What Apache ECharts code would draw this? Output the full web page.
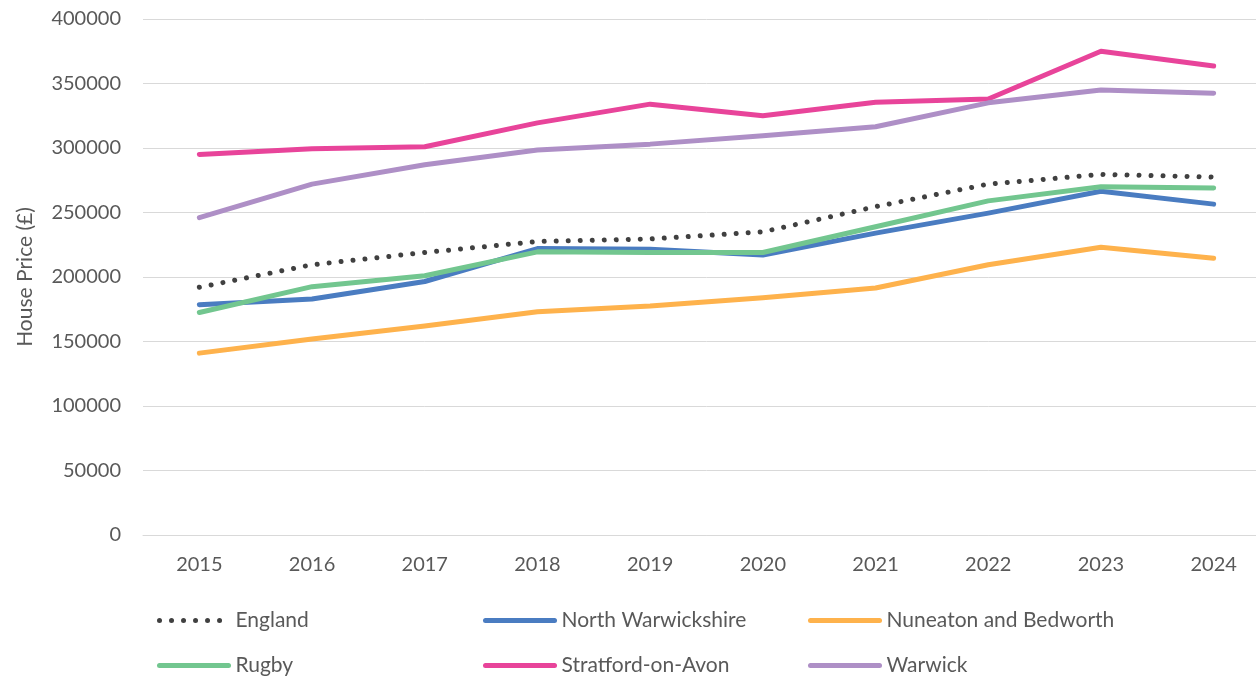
<!DOCTYPE html>
<html>
<head>
<meta charset="utf-8">
<script src="https://cdn.jsdelivr.net/npm/echarts@6/dist/echarts.min.js"></script>
<style>
    html, body { margin: 0; padding: 0; background: #fff; overflow: hidden; }
    /* wider than the window: the reference is cut off on the right */
    #chart { width: 1270px; height: 676px; }
</style>
</head>
<body>
<div id="chart"></div>
<script>
    // data
    var years = ['2015', '2016', '2017', '2018', '2019', '2020', '2021', '2022', '2023', '2024'];
    var england = [192000, 209500, 219000, 227500, 229500, 235000, 254500, 272000, 279500, 277500];
    var northWarwickshire = [178500, 183000, 196500, 222000, 221500, 217000, 234000, 249500, 266500, 256500];
    var nuneaton = [141000, 152000, 162000, 173000, 177500, 184000, 191500, 209500, 223000, 214500];
    var rugby = [172500, 192500, 201000, 219500, 219000, 219000, 239000, 259000, 270000, 269000];
    var stratford = [295000, 299500, 301000, 319500, 334000, 325000, 335500, 338000, 375000, 363500];
    var warwick = [246000, 272000, 287000, 298500, 303000, 309500, 316500, 335000, 345000, 342500];
    var yTicks = { min: 0, max: 400000, interval: 50000 };

    var textColor = '#595959';
    var gridColor = '#d9d9d9';
    var font = 'Lato';

    function lineSeries(name, data, color, dotted) {
        return {
            name: name,
            type: 'line',
            data: data,
            symbol: 'none',
            smooth: false,
            lineStyle: dotted ? {
                color: color, width: 5, type: [0.01, 12], cap: 'round'
            } : {
                color: color, width: 5, cap: 'round', join: 'round'
            },
            itemStyle: { color: color },
            emphasis: { disabled: true }
        };
    }

    // one legend per entry so the columns line up like the original
    function legendItem(name, left, top) {
        return {
            left: left,
            top: top,
            itemWidth: 69,
            itemHeight: 14,
            data: [name],
            selectedMode: false,
            itemStyle: { opacity: 0 },
            lineStyle: { width: 5, cap: 'round' },
            textStyle: { color: textColor, fontFamily: font, fontSize: 21, padding: [0, 0, 0, 2] }
        };
    }

    var chart = echarts.init(document.getElementById('chart'), null, { renderer: 'canvas' });
    chart.setOption({
        animation: false,
        backgroundColor: '#fff',
        grid: { left: 143, right: 0, top: 19, bottom: 141, containLabel: false },
        legend: [
            legendItem('England', 152, 605),
            legendItem('North Warwickshire', 478, 605),
            legendItem('Nuneaton and Bedworth', 803, 605),
            legendItem('Rugby', 152, 650),
            legendItem('Stratford-on-Avon', 478, 650),
            legendItem('Warwick', 803, 650)
        ],
        xAxis: {
            type: 'category',
            data: years,
            boundaryGap: true,
            axisLine: { show: true, lineStyle: { color: gridColor, width: 1 } },
            axisTick: { show: false },
            axisLabel: { color: textColor, fontFamily: font, fontSize: 20, margin: 20 }
        },
        yAxis: {
            type: 'value',
            min: yTicks.min,
            max: yTicks.max,
            interval: yTicks.interval,
            name: 'House Price (£)',
            nameLocation: 'middle',
            nameGap: 107,
            nameTextStyle: { color: textColor, fontFamily: font, fontSize: 21 },
            axisLine: { show: false },
            axisTick: { show: false },
            axisLabel: {
                color: textColor, fontFamily: font, fontSize: 20, margin: 22,
                formatter: function (v) { return String(v); }
            },
            splitLine: { lineStyle: { color: gridColor, width: 1 } }
        },
        series: [
            lineSeries('England', england, '#404040', true),
            lineSeries('North Warwickshire', northWarwickshire, '#4a7cc1'),
            lineSeries('Nuneaton and Bedworth', nuneaton, '#feb24c'),
            lineSeries('Rugby', rugby, '#72c68f'),
            lineSeries('Stratford-on-Avon', stratford, '#e8449a'),
            lineSeries('Warwick', warwick, '#ae8fc6')
        ]
    });
</script>
</body>
</html>
